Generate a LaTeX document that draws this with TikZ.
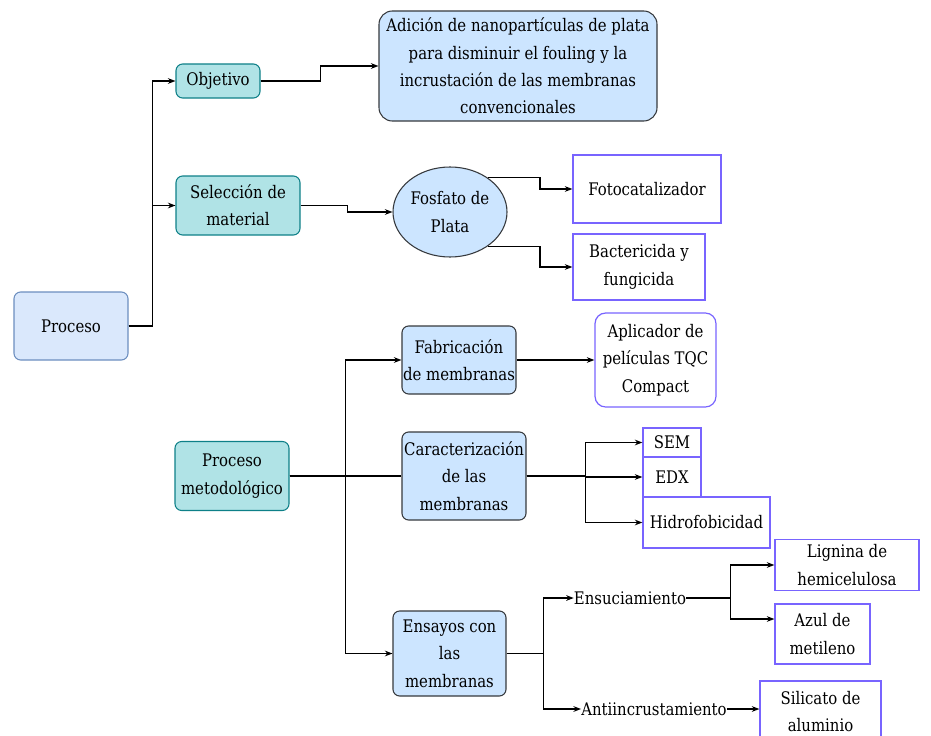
\documentclass[tikz,border=0pt]{standalone}
\usepackage{fontspec}
\setmainfont{DejaVu Serif}[FakeStretch=0.86]
\usetikzlibrary{shapes.geometric, arrows.meta, positioning, calc}

\definecolor{azulclaro}{HTML}{DAE8FC}
\definecolor{azulborde}{HTML}{6C8EBF}
\definecolor{tealfondo}{HTML}{B0E3E6}
\definecolor{tealborde}{HTML}{0E8088}
\definecolor{celeste}{HTML}{CCE5FF}
\definecolor{grisborde}{HTML}{36393D}
\definecolor{violeta}{HTML}{7864FF}

\begin{document}
\begin{tikzpicture}[x=0.75pt, y=-0.75pt,
  every node/.style={font=\fontsize{13}{20.5}\selectfont, align=center, inner sep=0pt},
  raiz/.style={draw=azulborde, fill=azulclaro, rounded corners=5pt, line width=0.8pt},
  etapa/.style={draw=tealborde, fill=tealfondo, rounded corners=5pt, line width=0.8pt},
  bloque/.style={draw=grisborde, fill=celeste, rounded corners=5pt, line width=0.8pt},
  resultado/.style={draw=violeta, fill=white, line width=0.9pt},
  flecha/.style={line width=1pt, -{Stealth[length=2mm]}},
  linea/.style={line width=1pt}]

  \useasboundingbox (0,0) rectangle (931,735);

  % ===== NIVEL 1 =====
  \node[raiz, minimum width=85.5pt, minimum height=51pt] (proceso) at (71,326) {Proceso};

  % ===== OBJETIVO Y MATERIAL =====
  \node[etapa, minimum width=63pt, minimum height=25.5pt] (objetivo) at (218,81) {Objetivo};
  \node[etapa, minimum width=93pt, minimum height=44.25pt] (seleccion) at (238,205.5) {Selección de\\material};

  \node[bloque, rounded corners=10pt, minimum width=208.5pt, minimum height=82.5pt] (adicion) at (518,66)
    {Adición de nanopartículas de plata\\para disminuir el fouling y la\\incrustación de las membranas\\convencionales};

  \node[ellipse, draw=grisborde, fill=celeste, line width=0.8pt, minimum width=85.5pt, minimum height=67.5pt] (fosfato) at (450,212) {Fosfato de\\Plata};

  \node[resultado, minimum width=111pt, minimum height=51pt] (foto) at (647,189) {Fotocatalizador};
  \node[resultado, minimum width=99pt, minimum height=49.5pt] (bacter) at (639,267) {Bactericida y\\fungicida};

  % Conexiones superiores
  \draw[flecha] (proceso.east) -- ++(24,0) |- (objetivo.west);
  \draw[flecha] (proceso.east) -- ++(24,0) |- (seleccion.west);
  \draw[flecha] (objetivo.east) -- ++(60,0) |- (adicion.west);
  \draw[flecha] (seleccion.east) -- ++(47,0) |- (fosfato.west);
  \draw[flecha] (fosfato.42) -- ++(52,0) |- (foto.west);
  \draw[flecha] (fosfato.-42) -- ++(52,0) |- (bacter.west);

  % ===== PROCESO METODOLOGICO =====
  \node[etapa, minimum width=85.5pt, minimum height=51.75pt] (metodo) at (232,476) {Proceso\\metodológico};

  \node[bloque, minimum width=85.5pt, minimum height=51pt] (fabric) at (459,360) {Fabricación\\de membranas};
  \node[bloque, minimum width=93pt, minimum height=66pt] (caract) at (464,476) {Caracterización\\de las\\membranas};
  \node[bloque, minimum width=84.75pt, minimum height=63.75pt] (ensayos) at (449.5,653.5) {Ensayos con\\las\\membranas};

  \node[resultado, rounded corners=8pt, minimum width=90.75pt, minimum height=70.5pt] (aplic) at (655.5,360) {Aplicador de\\películas TQC\\Compact};

  \node[resultado, minimum width=43.5pt, minimum height=21.75pt] (sem) at (672,442.5) {SEM};
  \node[resultado, minimum width=43.5pt, minimum height=30pt] (edx) at (672,477) {EDX};
  \node[resultado, minimum width=95.25pt, minimum height=38.25pt] (hidro) at (706.5,522.5) {Hidrofobicidad};

  % Ensayos
  \node (ensuc) at (630,598) {Ensuciamiento};
  \node (antiinc) at (654,709) {Antiincrustamiento};

  \node[resultado, minimum width=108pt, minimum height=38.25pt] (lignina) at (847,565) {Lignina de\\hemicelulosa};
  \node[resultado, minimum width=71.25pt, minimum height=45pt] (azul) at (822.5,634) {Azul de\\metileno};
  \node[resultado, minimum width=90.75pt, minimum height=45.75pt] (silicato) at (820.5,711.5) {Silicato de\\aluminio};

  % Conexiones inferiores
  \draw[flecha] (metodo.east) -- ++(56,0) |- (fabric.west);
  \draw[flecha] (metodo.east) -- ++(56,0) |- (ensayos.west);
  \draw[linea] (metodo.east) -- (caract.west);
  \draw[flecha] (fabric.east) -- (aplic.west);

  \draw[flecha] (caract.east) -- ++(59,0) |- (sem.west);
  \draw[flecha] (caract.east) -- ++(59,0) |- (edx.west);
  \draw[flecha] (caract.east) -- ++(59,0) |- (hidro.west);

  \draw[flecha] (ensayos.east) -- ++(37,0) |- (ensuc.west);
  \draw[flecha] (ensayos.east) -- ++(37,0) |- (antiinc.west);
  \draw[flecha] (ensuc.east) -- ++(44,0) |- (lignina.west);
  \draw[flecha] (ensuc.east) -- ++(44,0) |- ([yshift=11.25pt]azul.west);
  \draw[flecha] (antiinc.east) -- (antiinc.east -| silicato.west);
\end{tikzpicture}
\end{document}
